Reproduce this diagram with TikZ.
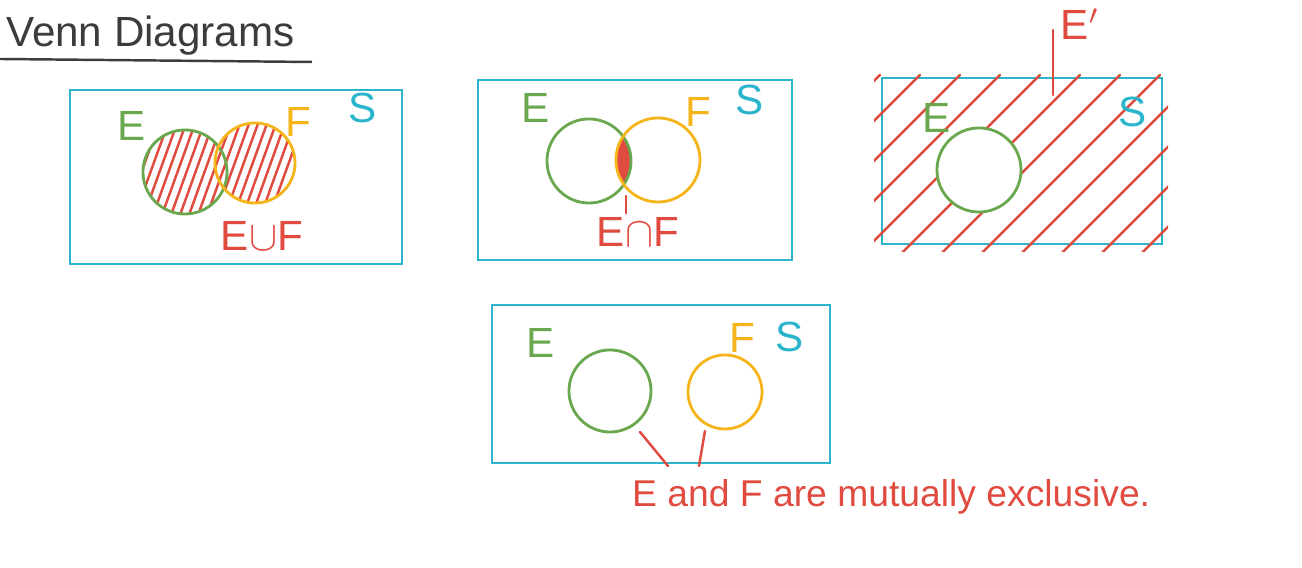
\documentclass[tikz,border=0pt]{standalone}
\usepackage{fontspec}
\setmainfont{Liberation Sans}
\usepackage{tikz}
\usetikzlibrary{positioning}

\definecolor{boxcyan}{HTML}{2BB5CC}
\definecolor{setgreen}{HTML}{6AA84F}
\definecolor{setorange}{HTML}{F4B41A}
\definecolor{hatchred}{HTML}{E04A3F}
\definecolor{titlegray}{HTML}{3C3C3C}

\tikzset{
  samplebox/.style={draw=boxcyan,line width=0.8pt},
  setE/.style={draw=setgreen,line width=0.8pt},
  setF/.style={draw=setorange,line width=0.8pt},
  hatch/.style={draw=hatchred,line width=0.7pt,line cap=round},
  lbl/.style={font=\fontsize{12}{12}\selectfont,inner sep=1pt}
}

\begin{document}
\begin{tikzpicture}[x=0.01cm,y=-0.01cm]
\useasboundingbox (0,0) rectangle (1302,568);

% title
\node[lbl,text=titlegray,anchor=base west] (title) at (2,47) {Venn Diagrams};
\draw[titlegray,line width=0.7pt] (0,59) -- (312,62);

% union
\draw[samplebox] (70,90) rectangle (402,264);
\begin{scope}
  \clip (185,172) circle (0.43cm) (255,163) circle (0.41cm);
  \foreach \i in {-2,...,16}
    \draw[hatch] (135+\i*9,215) -- (170+\i*9,118);
\end{scope}
\draw[setE] (185,172) circle (0.42cm);
\draw[setF] (255,163) circle (0.40cm);
\node[lbl,text=setgreen] (E1) at (132,126) {E};
\node[lbl,text=setorange] (F1) at (298,122) {F};
\node[lbl,text=boxcyan] (S1) at (363,108) {S};
\node[lbl,text=hatchred] (EuF) at (262,236) {E$\cup$F};

% intersection
\draw[samplebox] (478,80) rectangle (792,260);
\begin{scope}
  \clip (589,161) circle (0.42cm);
  \fill[hatchred] (658,160) circle (0.42cm);
\end{scope}
\draw[setE] (589,161) circle (0.42cm);
\draw[setF] (658,160) circle (0.42cm);
\node[lbl,text=setgreen] (E2) at (536,108) {E};
\node[lbl,text=setorange] (F2) at (698,112) {F};
\node[lbl,text=boxcyan] (S2) at (750,100) {S};
\node[lbl,text=hatchred] (EnF) at (638,232) {E$\cap$F};
\coordinate (lens) at (626,196);
\draw[hatch] (lens) -- (lens |- EnF.north);

% complement
\draw[samplebox] (882,78) rectangle (1162,244);
\begin{scope}[even odd rule]
  \clip (874,72) rectangle (1168,252) (979,170) circle (0.42cm);
  \foreach \i in {0,...,12}
    \draw[hatch] (700+\i*40,255) -- (880+\i*40,75);
\end{scope}
\draw[setE] (979,170) circle (0.42cm);
\node[lbl,text=setgreen] (E3) at (937,118) {E};
\node[lbl,text=boxcyan] (S3) at (1133,112) {S};
\node[lbl,text=hatchred] (Ec) at (1080,24) {E$'$};
\coordinate (ctop) at (1053,30);
\coordinate (cbot) at (1053,95);
\draw[hatch] (ctop) -- (cbot);

% mutually exclusive
\draw[samplebox] (492,305) rectangle (830,463);
\draw[setE] (610,391) circle (0.41cm);
\draw[setF] (725,392) circle (0.37cm);
\node[lbl,text=setgreen] (E4) at (541,343) {E};
\node[lbl,text=setorange] (F4) at (742,338) {F};
\node[lbl,text=boxcyan] (S4) at (790,337) {S};
\node[text=hatchred,font=\fontsize{10.6}{11}\selectfont,anchor=base west,inner sep=1pt]
  (excl) at (628,507) {E and F are mutually exclusive.};
\coordinate (gapE) at (640,432);
\coordinate (gapF) at (705,431);
\coordinate (tipE) at (668,466);
\coordinate (tipF) at (699,466);
\draw[hatch] (gapE) -- (tipE);
\draw[hatch] (gapF) -- (tipF);
\end{tikzpicture}
\end{document}
